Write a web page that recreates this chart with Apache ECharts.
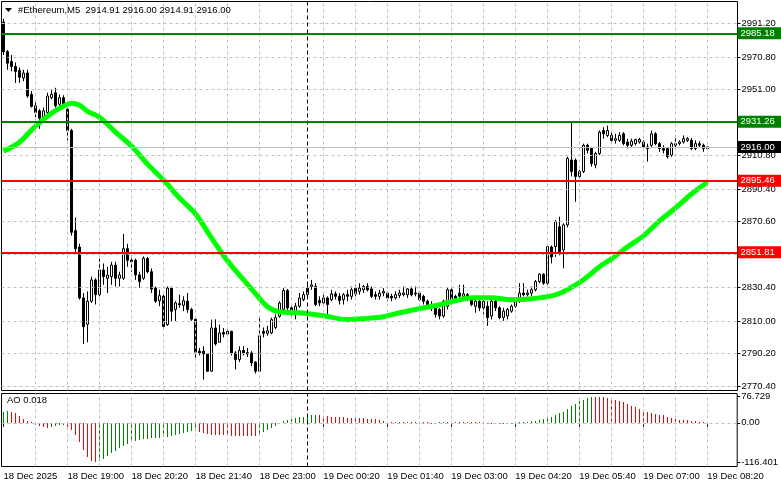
<!DOCTYPE html>
<html>
<head>
<meta charset="utf-8">
<script src="https://cdn.jsdelivr.net/npm/echarts@6/dist/echarts.min.js"></script>
<style>
  html, body { margin: 0; padding: 0; background: #fff; }
  #main { width: 781px; height: 489px; }
</style>
</head>
<body>
<div id="main"></div>
<script>
// bars: open, high, low, close (M5, from 18 Dec 17:40)
var ohlc = [
  [2992, 2994, 2972, 2974], [2974, 2975, 2963, 2967], [2968, 2972, 2962, 2965], [2965, 2967.5, 2955, 2962],
  [2962.6, 2964.5, 2955, 2958.4], [2958, 2963, 2956, 2961], [2961, 2963, 2946, 2947], [2948, 2950, 2940, 2940.7],
  [2941, 2944, 2934, 2937], [2938, 2939, 2927, 2933.5], [2934, 2940, 2932, 2938], [2937, 2949, 2936, 2947],
  [2946, 2951, 2945, 2948], [2949, 2952, 2940, 2941], [2942, 2948, 2940, 2946], [2946, 2947.5, 2941, 2942],
  [2939, 2941, 2920, 2926], [2926, 2927, 2862, 2864], [2865, 2873, 2852, 2854], [2855, 2857, 2823, 2824],
  [2824, 2827, 2796, 2806.5], [2808, 2828, 2797, 2822], [2822, 2837, 2821, 2835], [2835, 2836, 2820, 2826],
  [2826, 2848, 2825, 2841], [2841, 2845, 2832, 2837], [2836, 2843, 2827, 2838], [2837, 2846, 2832, 2844],
  [2844, 2846, 2831, 2836], [2836, 2840, 2831, 2838], [2836, 2863, 2835, 2854], [2854, 2857, 2843, 2847],
  [2847, 2850, 2840, 2846], [2847, 2848, 2835, 2838], [2838, 2840, 2830, 2834], [2836, 2849.3, 2835, 2848.2],
  [2848, 2849, 2839, 2840], [2840, 2842, 2827, 2829.4], [2830, 2831, 2821, 2822], [2822.3, 2829, 2819, 2825.4],
  [2825, 2826, 2806, 2806.7], [2807.8, 2831, 2807, 2830], [2830, 2831, 2810, 2815.9], [2817, 2822, 2810, 2821],
  [2820.5, 2826, 2818, 2819.9], [2819.5, 2825, 2816, 2822.3], [2822, 2827, 2815, 2817], [2817, 2818, 2810, 2811],
  [2811, 2811.5, 2787.5, 2791], [2791.6, 2793.5, 2789, 2790.5], [2791.6, 2794.6, 2774.3, 2789.9], [2790, 2790.5, 2779, 2779.4],
  [2779.4, 2810.8, 2779, 2805.7], [2805.7, 2811, 2795, 2796], [2797, 2807.8, 2797, 2802.7], [2803, 2805.7, 2800, 2802],
  [2802, 2804.7, 2801, 2803.7], [2803.7, 2804, 2789, 2790.5], [2790.5, 2791.6, 2780.4, 2786.5], [2786.5, 2794.6, 2785, 2792],
  [2792, 2794.6, 2789, 2790.5], [2790.7, 2793.5, 2788, 2789.9], [2790.5, 2791.6, 2782.4, 2784.5], [2784.9, 2785.5, 2778, 2779.4],
  [2779.4, 2811.8, 2779, 2801], [2803.7, 2806, 2800, 2802.5], [2802.5, 2807, 2801, 2804], [2802.7, 2812, 2802, 2810.8],
  [2806, 2814, 2805, 2812], [2812.8, 2822, 2812, 2820.9], [2817, 2830, 2816, 2828.5], [2828.5, 2829.5, 2815, 2818],
  [2818, 2819, 2812, 2815], [2814, 2821, 2811, 2819], [2819, 2827, 2818, 2824], [2823, 2828, 2822, 2826],
  [2826, 2832, 2825, 2830], [2831, 2835, 2829, 2832], [2831, 2833, 2819, 2820], [2822.5, 2825, 2819, 2821],
  [2821, 2826, 2819, 2824], [2824, 2825, 2812.8, 2820], [2822.9, 2829, 2822, 2826.5], [2826.5, 2828, 2823, 2825],
  [2825, 2827, 2820, 2822.5], [2823, 2827, 2820, 2826], [2826, 2829, 2822, 2825], [2825, 2831, 2823, 2829],
  [2830, 2832, 2825, 2826.5], [2828, 2833, 2826, 2830], [2829, 2832, 2827, 2831], [2831, 2833, 2828, 2829],
  [2829.5, 2831, 2824, 2825], [2826, 2828, 2823, 2825], [2825, 2829, 2823, 2827], [2827, 2830, 2825, 2828],
  [2827, 2828, 2822, 2824], [2825, 2826.5, 2822, 2824], [2824, 2828, 2823, 2826], [2825.5, 2829, 2824, 2827],
  [2826, 2831, 2825, 2827], [2826, 2830, 2824, 2829.5], [2829.5, 2831, 2825, 2826], [2827, 2831, 2825, 2826.5],
  [2827, 2828, 2822, 2823], [2825, 2826, 2820, 2822], [2822, 2823, 2818, 2820], [2820, 2822, 2816, 2818],
  [2818, 2819, 2812, 2814], [2817, 2818, 2811, 2813], [2813, 2823, 2812, 2822], [2819, 2830, 2817, 2829],
  [2829, 2830, 2820, 2822], [2825, 2826, 2821, 2822], [2827, 2832, 2823, 2825], [2825, 2832, 2824, 2826.5],
  [2826, 2827, 2822, 2824], [2823, 2824, 2819, 2820], [2819, 2823, 2815, 2822], [2822, 2823, 2816, 2818],
  [2818, 2823, 2814, 2822], [2819, 2822, 2807, 2812], [2813, 2824, 2811, 2822], [2822, 2823, 2816, 2818],
  [2818, 2819, 2811, 2812], [2812, 2818, 2810, 2816], [2813, 2818, 2811, 2817], [2816, 2820, 2815, 2819],
  [2819, 2824, 2818, 2823], [2823, 2833, 2821, 2827], [2827, 2833, 2825, 2826], [2826, 2829, 2825, 2827],
  [2827, 2831, 2825, 2829], [2829, 2835, 2828, 2834], [2834, 2839, 2833, 2838.5], [2838.5, 2839, 2832, 2833],
  [2833, 2856, 2832, 2855.3], [2855, 2856, 2845, 2849], [2855.3, 2871.5, 2849, 2870.5], [2867.4, 2873.5, 2850, 2852.3],
  [2853.3, 2869.5, 2842, 2868.5], [2868.5, 2910, 2867, 2909], [2908, 2931.2, 2898, 2901], [2908, 2909, 2882.6, 2898],
  [2898, 2902, 2896, 2901], [2901, 2918, 2900, 2917], [2917, 2918, 2912, 2914], [2915, 2916, 2904, 2905.9],
  [2905, 2913, 2903, 2912], [2912, 2926, 2911, 2925], [2926, 2928, 2921, 2924], [2923, 2929, 2922, 2926],
  [2923, 2925, 2919, 2920], [2920, 2924, 2918, 2921], [2920, 2925, 2919, 2923], [2924, 2925, 2917, 2918],
  [2919, 2921, 2915, 2917], [2917, 2921, 2916, 2919.5], [2918, 2921, 2917, 2920.5], [2919, 2921.5, 2918, 2920.5],
  [2919, 2920, 2914, 2916], [2916, 2918, 2907, 2915], [2917, 2926, 2916, 2924], [2924, 2925, 2917, 2918],
  [2918, 2919, 2913, 2915], [2915, 2917, 2912, 2914], [2915, 2916, 2909, 2910], [2911, 2919, 2910, 2918],
  [2917, 2923, 2916, 2918], [2918, 2920, 2917, 2919], [2919, 2923, 2918, 2921], [2920, 2922, 2919, 2921],
  [2920, 2921.5, 2914, 2915], [2915, 2920, 2914, 2918], [2918, 2919.5, 2916, 2917], [2917, 2918, 2913, 2915],
  [2914.91, 2916.00, 2914.91, 2916.00]
];

// moving average: [bar index, value]
var maPoints = [
  [0, 2913.4], [4, 2918.9], [8, 2928.6], [12, 2936.5], [15, 2940.8], [17, 2942.6], [19, 2941.4], [21, 2937.7],
  [24, 2934.1], [28, 2925.0], [32, 2916.5], [36, 2905.5], [40, 2895.8], [44, 2884.9], [48, 2875.2], [52, 2860.6],
  [56, 2846.6], [60, 2835.1], [63, 2826.6], [66, 2818.7], [69, 2815.6], [74, 2815.0], [80, 2813.2], [86, 2810.8],
  [90, 2811.4], [95, 2812.6], [99, 2815.0], [104, 2817.5], [109, 2819.9], [113, 2822.3], [117, 2824.1], [122, 2824.1],
  [127, 2822.9], [132, 2823.5], [137, 2825.3], [140, 2827.8], [145, 2835.1], [149, 2843.0], [152, 2847.8], [156, 2855.1],
  [160, 2861.8], [164, 2870.9], [168, 2878.8], [172, 2887.3], [176, 2894.6]
];

// Awesome Oscillator
var aoValues = [
  33, 35, 31, 28, 20, 11, 4, 1, -5, -10,
  -13, -15, -13, -10, -7, -6, -12, -20, -37, -57,
  -80, -101, -113, -116.401, -113, -106, -98, -90, -82, -75,
  -68, -62, -57, -53, -49.5, -47.5, -46.5, -45.5, -44.5, -43.5,
  -42.5, -40.5, -38.5, -35.5, -33, -30.5, -28, -25.5, -23, -26,
  -29, -32, -35, -36, -36.5, -37, -37.5, -38, -38.3, -38.6,
  -38.8, -39, -39.2, -39.4, -34, -28, -21, -14, -8, -3,
  4, 8, 11, 14, 16, 18, 20, 22, 24, 23,
  21, 19, 18, 17, 16, 15.8, 15, 14.8, 14, 13,
  12.7, 12, 11, 10, 8, 5, 2, 1, 0.5, 0.8,
  0.3, 0.2, 0.5, 0.3, 0.1, -0.5, -1.5, -2.5, -3, -2,
  -1, 0.2, 0.5, 0.3, 0.6, 0.4, 0.2, -0.3, -1, -2,
  -3, -3.5, -4, -4.5, -4.6, -4.8, -4, -3, -1.5, 0.2,
  1.5, 3, 4, 6, 8, 10, 13, 18, 23, 28,
  33, 40, 48, 56, 63, 68, 74, 76.729, 76.5, 76.3,
  75.5, 74, 71, 68, 64, 60, 55, 50, 45, 41,
  37, 33, 30, 27, 24, 22, 18, 14, 11, 9,
  8, 7, 5, 4, 3, 1.5, 0.018
];

var priceTicks = [2991.20, 2970.80, 2951.00, 2930.90, 2910.80, 2890.40, 2870.60, 2850.50, 2830.40, 2810.00, 2790.20, 2770.40];
var aoTicks = [76.729, 0, -116.401];
var aoTickText = ['76.729', '0.00', '-116.401'];
var tickLabels = ['18 Dec 2025', '18 Dec 19:00', '18 Dec 20:20', '18 Dec 21:40', '18 Dec 23:00', '19 Dec 00:20',
  '19 Dec 01:40', '19 Dec 03:00', '19 Dec 04:20', '19 Dec 05:40', '19 Dec 07:00', '19 Dec 08:20'];
var greenLevels = [2985.18, 2931.26];
var redLevels = [2895.46, 2851.81];
var bidPrice = 2916.00;
var titleText = '#Ethereum,M5  2914.91 2916.00 2914.91 2916.00';
var aoText = 'AO 0.018';

var SLOTS = 184;      // bars + empty shift on the right
var LABEL_STEP = 16;  // one time label per 80 min
var GRID_STEP = 8;    // vertical grid every 40 min
var MIDNIGHT = 76;    // 19 Dec 00:00

var times = [];
for (var i = 0; i < SLOTS; i++) {
  var m = 17 * 60 + 40 + 5 * i;
  var hh = Math.floor(m / 60) % 24, mm = m % 60;
  times.push((hh < 10 ? '0' : '') + hh + ':' + (mm < 10 ? '0' : '') + mm);
}

var font = 'Liberation Sans';
var gridColor = '#c0c0c0';
var aoUp = '#008000';
var aoDown = '#ff0000';

function vLines() {
  var out = [];
  for (var k = GRID_STEP; k < SLOTS; k += GRID_STEP) {
    out.push({ xAxis: k });
  }
  return out;
}

var mainGridLines = priceTicks.map(function (v) { return { yAxis: v }; }).concat(vLines());
var sepLine = [{ xAxis: MIDNIGHT, lineStyle: { color: '#000', type: [4, 3], width: 1 } }];

function levelItem(v, color) {
  return {
    yAxis: v,
    lineStyle: { color: color, width: 2, type: 'solid' },
    label: {
      show: true, position: 'end', distance: 0, formatter: v.toFixed(2),
      color: '#fff', backgroundColor: color, fontFamily: font, fontSize: 9.5,
      padding: [1, 2, 0, 3], width: 40, lineHeight: 11
    }
  };
}

var levelLines = greenLevels.map(function (v) { return levelItem(v, '#008000'); })
  .concat(redLevels.map(function (v) { return levelItem(v, '#ff0000'); }));

// AO histogram: 1 px vertical strokes snapped to pixel centres
function renderAO(params, api) {
  var idx = params.dataIndex;
  var v = api.value(1);
  var p = api.coord([api.value(0), v]);
  var z = api.coord([api.value(0), 0]);
  var up = idx === 0 || v >= aoValues[idx - 1];
  var x = Math.floor(p[0]) + 0.5;
  var y0 = Math.round(z[1]), y1 = Math.round(p[1]);
  if (y0 === y1) { y1 = y0 - 1; }
  return {
    type: 'line',
    shape: { x1: x, y1: y0, x2: x, y2: y1 },
    style: { stroke: up ? aoUp : aoDown, lineWidth: 1, fill: null }
  };
}

var chart = echarts.init(document.getElementById('main'), null, { renderer: 'canvas' });

// 4 px per bar, left edge on a half pixel so 1 px marks stay sharp
var option = {
  animation: false,
  backgroundColor: '#fff',
  textStyle: { fontFamily: font },
  grid: [
    { left: 1.5, width: 736, top: 1.5, height: 389, show: true, borderColor: '#000', borderWidth: 1, backgroundColor: '#fff' },
    { left: 1.5, width: 736, top: 393.5, height: 73, show: true, borderColor: '#000', borderWidth: 1, backgroundColor: '#fff' }
  ],
  xAxis: [
    {
      type: 'category', gridIndex: 0, data: times, boundaryGap: true,
      axisLine: { show: false }, axisTick: { show: false }, axisLabel: { show: false }, splitLine: { show: false }
    },
    {
      type: 'category', gridIndex: 1, data: times, boundaryGap: true,
      axisLine: { show: false },
      axisTick: {
        show: true, alignWithLabel: true, length: 4, lineStyle: { color: '#000' },
        interval: function (idx) { return idx % LABEL_STEP === 0; }
      },
      axisLabel: {
        show: true, align: 'left', margin: 5, color: '#000', fontFamily: font, fontSize: 9.5,
        interval: function (idx) { return idx % LABEL_STEP === 0; },
        formatter: function (val, idx) { return idx % LABEL_STEP === 0 ? tickLabels[idx / LABEL_STEP] : ''; }
      },
      splitLine: { show: false }
    }
  ],
  yAxis: [
    {
      type: 'value', gridIndex: 0, position: 'right', min: 2767.64, max: 3004.57, scale: true,
      axisLine: { show: false },
      axisTick: { show: true, length: 3, lineStyle: { color: '#000' }, customValues: priceTicks },
      axisLabel: {
        show: true, margin: 4, color: '#000', fontFamily: font, fontSize: 9.5, customValues: priceTicks,
        formatter: function (v) { return v.toFixed(2); }
      },
      splitLine: { show: false }
    },
    {
      type: 'value', gridIndex: 1, position: 'right', min: -128.4, max: 86.1,
      axisLine: { show: false },
      axisTick: { show: true, length: 3, lineStyle: { color: '#000' }, customValues: aoTicks },
      axisLabel: {
        show: true, margin: 4, color: '#000', fontFamily: font, fontSize: 9.5, customValues: aoTicks,
        formatter: function (v) { return aoTickText[aoTicks.indexOf(v)]; }
      },
      splitLine: { show: false }
    }
  ],
  graphic: [
    { type: 'polygon', shape: { points: [[5, 8], [12, 8], [8.5, 12]] }, style: { fill: '#000' }, z: 100 },
    {
      type: 'text', left: 18, top: 5, z: 100,
      style: { text: titleText, fill: '#000', font: '9.5px "Liberation Sans"' }
    },
    {
      type: 'text', left: 7, top: 395, z: 100,
      style: { text: aoText, fill: '#000', font: '9.5px "Liberation Sans"' }
    }
  ],
  series: [
    {
      name: 'grid', type: 'line', xAxisIndex: 0, yAxisIndex: 0, data: [], z: 1, silent: true,
      markLine: {
        silent: true, symbol: ['none', 'none'], animation: false,
        label: { show: false },
        lineStyle: { color: gridColor, type: [3, 3], width: 1 },
        data: mainGridLines.concat(sepLine).concat([
          {
            yAxis: bidPrice, lineStyle: { color: '#c0c0c0', type: 'solid', width: 1 },
            label: {
              show: true, position: 'end', distance: 0, formatter: bidPrice.toFixed(2),
              color: '#fff', backgroundColor: '#000', fontFamily: font, fontSize: 9.5,
              padding: [1, 2, 0, 3], width: 40, lineHeight: 11
            }
          }
        ])
      }
    },
    {
      name: 'price', type: 'candlestick', xAxisIndex: 0, yAxisIndex: 0, z: 2,
      barWidth: 2,
      data: ohlc.map(function (b) { return [b[0], b[3], b[2], b[1]]; }),
      itemStyle: {
        color: '#ffffff', color0: '#000000',
        borderColor: '#000000', borderColor0: '#000000', borderWidth: 1
      }
    },
    {
      name: 'MA', type: 'line', xAxisIndex: 0, yAxisIndex: 0, z: 3,
      data: maPoints, smooth: 0.3, showSymbol: false, symbol: 'none',
      lineStyle: { color: '#00ff00', width: 5 }
    },
    {
      name: 'levels', type: 'line', xAxisIndex: 0, yAxisIndex: 0, data: [], z: 4, silent: true,
      markLine: { silent: true, symbol: ['none', 'none'], animation: false, data: levelLines }
    },
    {
      name: 'AO', type: 'custom', xAxisIndex: 1, yAxisIndex: 1, z: 2,
      renderItem: renderAO,
      encode: { x: 0, y: 1 },
      data: aoValues.map(function (v, i) { return [i, v]; })
    },
    {
      name: 'aogrid', type: 'line', xAxisIndex: 1, yAxisIndex: 1, data: [], z: 1, silent: true,
      markLine: {
        silent: true, symbol: ['none', 'none'], animation: false,
        label: { show: false },
        lineStyle: { color: gridColor, type: [3, 3], width: 1 },
        data: [{ yAxis: 0 }].concat(vLines()).concat(sepLine)
      }
    }
  ]
};

chart.setOption(option);
</script>
</body>
</html>
